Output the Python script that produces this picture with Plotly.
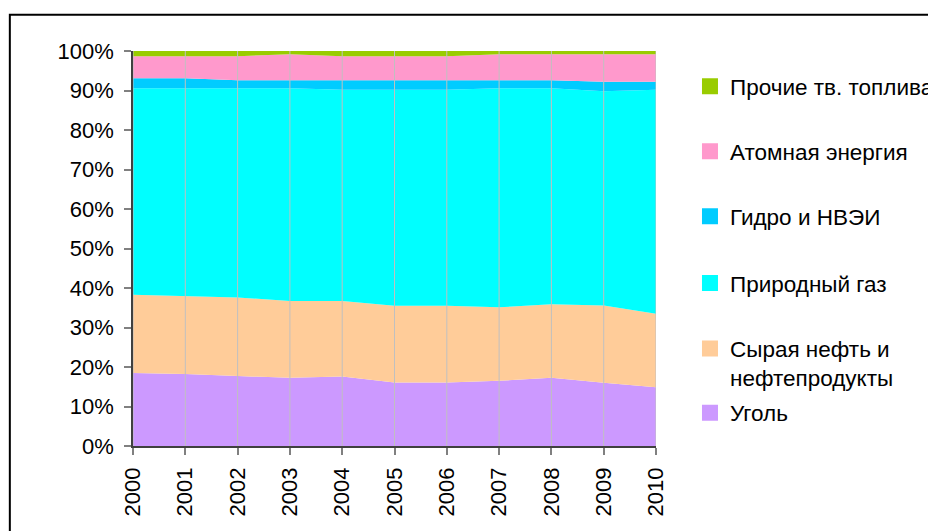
import plotly.graph_objects as go

years = [2000, 2001, 2002, 2003, 2004, 2005, 2006, 2007, 2008, 2009, 2010]

coal = [18.5, 18.2, 17.7, 17.3, 17.6, 16.1, 16.1, 16.5, 17.3, 16.0, 14.9]
oil = [19.8, 19.8, 19.9, 19.4, 19.1, 19.4, 19.4, 18.6, 18.6, 19.6, 18.6]
gas = [52.3, 52.6, 53.0, 53.9, 53.5, 54.7, 54.7, 55.5, 54.7, 54.2, 56.7]
hydro = [2.5, 2.5, 2.0, 2.0, 2.4, 2.4, 2.4, 2.0, 2.0, 2.4, 2.0]
nuclear = [5.6, 5.6, 6.1, 6.6, 6.1, 6.1, 6.1, 6.6, 6.6, 7.0, 7.0]
other = [1.3, 1.3, 1.3, 0.8, 1.3, 1.3, 1.3, 0.8, 0.8, 0.8, 0.8]

names = ["Уголь", "Сырая нефть и<br>нефтепродукты", "Природный газ",
         "Гидро и НВЭИ", "Атомная энергия", "Прочие тв. топлива"]
colors = ["#CC99FF", "#FFCC99", "#00FFFF", "#00CCFF", "#FF99CC", "#99CC00"]
series = [coal, oil, gas, hydro, nuclear, other]

FONT = "Arial, Liberation Sans, sans-serif"

fig = go.Figure()
for vals, col in zip(series, colors):
    fig.add_trace(go.Scatter(
        x=years, y=vals, stackgroup="one", mode="lines",
        line=dict(width=0, color=col), fillcolor=col,
        showlegend=False, hoverinfo="skip"))

# legend entries (one legend each, positioned like the original)
legend_y = {0: 0.2256, 1: 0.3207, 2: 0.4736, 3: 0.6010, 4: 0.7252, 5: 0.8495}
for i, (nm, col) in enumerate(zip(names, colors)):
    lname = "legend" if i == 0 else f"legend{i+1}"
    fig.add_trace(go.Scatter(
        x=[None], y=[None], mode="markers", name=nm,
        marker=dict(symbol="square", size=16, color=col),
        legend=lname, showlegend=True))

legend_common = dict(font=dict(family=FONT, size=22.5, color="#000000"),
                     bgcolor="rgba(0,0,0,0)", x=0.7349, xanchor="left",
                     xref="container", yref="container",
                     yanchor="middle", itemclick=False, itemdoubleclick=False)
layout_legends = {}
for i in range(6):
    lname = "legend" if i == 0 else f"legend{i+1}"
    d = dict(legend_common)
    d["y"] = legend_y[i]
    if i == 1:
        d["valign"] = "top"
    layout_legends[lname] = d

# vertical gridlines on top of the areas
for yr in years:
    fig.add_shape(type="line", x0=yr, x1=yr, y0=0, y1=1, xref="x", yref="paper",
                  line=dict(color="#C0C0C0", width=1), layer="above")

# outer chart border
fig.add_shape(type="rect", xref="paper", yref="paper",
              x0=-0.2355, x1=1.7, y0=-0.3, y1=1.0916,
              line=dict(color="#000000", width=2), fillcolor="rgba(0,0,0,0)",
              layer="above")

fig.update_layout(
    width=928, height=523,
    margin=dict(l=125, r=279.5, t=43, b=85.3),
    paper_bgcolor="white", plot_bgcolor="white",
    font=dict(family=FONT, size=22, color="#000000"),
    **layout_legends,
)
fig.update_xaxes(
    range=[2000, 2010], tickmode="array", tickvals=years,
    ticktext=[str(y) for y in years], tickangle=-90,
    showgrid=False, zeroline=False,
    showline=True, linecolor="#404040", linewidth=1.5,
    ticks="outside", ticklen=7, tickcolor="#808080", tickwidth=1.5,
    tickfont=dict(family=FONT, size=22, color="#000000"),
    ticklabelstandoff=4, layer="above traces")
fig.update_yaxes(
    range=[0, 100], tickmode="array", tickvals=list(range(0, 101, 10)),
    ticktext=[f"{v}%" for v in range(0, 101, 10)],
    showgrid=False, zeroline=False,
    showline=True, linecolor="#404040", linewidth=1.5,
    ticks="outside", ticklen=7, tickcolor="#808080", tickwidth=1.5,
    tickfont=dict(family=FONT, size=22, color="#000000"),
    ticklabelstandoff=6, layer="above traces")

fig.write_html("out.html")
